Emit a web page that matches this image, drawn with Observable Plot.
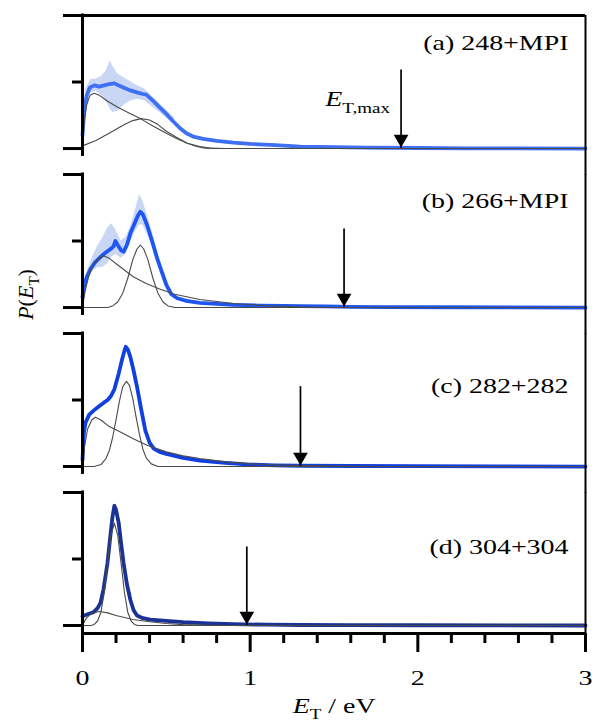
<!DOCTYPE html>
<html><head><meta charset="utf-8">
<script src="https://cdn.jsdelivr.net/npm/d3@7"></script>
<script src="https://cdn.jsdelivr.net/npm/@observablehq/plot@0.6"></script>
<style>
html,body{margin:0;padding:0;background:#fff;}
svg{display:block;}
</style></head><body>
<script>
// ---------- labels, ticks, markers ----------
const panels = ["a", "b", "c", "d"];
const panelLabels = ["(a) 248+MPI", "(b) 266+MPI", "(c) 282+282", "(d) 304+304"];
const panelLabelY = [0.74, 0.745, 0.55, 0.54];
const blueColors = ["#3f6ff2", "#1f56f0", "#1240e0", "#1a3196"];
const etMax = [1.90, 1.56, 1.30, 0.98];
const etMaxTop = [0.50, 0.50, 0.51, 0.50];
const xMajorTicks = [0, 1, 2, 3];
const xMinorTicks = [0.2, 0.4, 0.6, 0.8, 1.2, 1.4, 1.6, 1.8, 2.2, 2.4, 2.6, 2.8];
const yMajorTicks = [0, 1];
const yMinorTicks = [0.5];
const yFloor = -0.06;

// ---------- panel (a) 248+MPI ----------
const blueA = [[0,0.10],[0.01,0.28],[0.025,0.40],[0.045,0.46],[0.07,0.475],[0.10,0.465],[0.13,0.475],[0.16,0.485],[0.19,0.49],[0.215,0.475],[0.25,0.455],[0.29,0.435],[0.33,0.42],[0.36,0.41],[0.38,0.405],[0.42,0.36],[0.46,0.31],[0.50,0.26],[0.54,0.205],[0.58,0.155],[0.62,0.115],[0.66,0.09],[0.72,0.072],[0.80,0.058],[0.90,0.045],[1.00,0.035],[1.15,0.025],[1.30,0.015],[1.50,0.010],[1.70,0.007],[2.00,0.004],[2.30,0.002],[2.60,0.001],[3.00,0.0]];
const bandA = [[0.02,0.30,0.45],[0.05,0.42,0.52],[0.08,0.43,0.52],[0.11,0.40,0.54],[0.14,0.36,0.58],[0.165,0.30,0.66],[0.18,0.27,0.62],[0.21,0.28,0.56],[0.25,0.33,0.53],[0.29,0.36,0.50],[0.33,0.37,0.47],[0.37,0.36,0.45],[0.41,0.32,0.40],[0.45,0.28,0.35],[0.50,0.23,0.29],[0.55,0.18,0.23]];
const fit1A = [[0,0],[0.01,0.20],[0.025,0.33],[0.045,0.40],[0.07,0.415],[0.10,0.40],[0.15,0.355],[0.21,0.31],[0.28,0.265],[0.345,0.225],[0.42,0.17],[0.50,0.115],[0.56,0.075],[0.625,0.04],[0.70,0.015],[0.76,0.004],[0.85,0],[3,0]];
const fit2A = [[0,0.02],[0.08,0.06],[0.167,0.12],[0.25,0.18],[0.30,0.21],[0.35,0.225],[0.40,0.215],[0.45,0.18],[0.50,0.13],[0.56,0.085],[0.625,0.04],[0.68,0.015],[0.73,0.003],[0.80,0],[3,0]];

// ---------- panel (b) 266+MPI ----------
const blueB = [[0,0.08],[0.01,0.16],[0.025,0.23],[0.048,0.29],[0.075,0.34],[0.107,0.38],[0.135,0.41],[0.167,0.44],[0.185,0.46],[0.196,0.50],[0.21,0.47],[0.23,0.43],[0.245,0.42],[0.265,0.47],[0.286,0.56],[0.31,0.63],[0.33,0.69],[0.345,0.72],[0.36,0.70],[0.385,0.62],[0.415,0.50],[0.445,0.37],[0.475,0.26],[0.50,0.17],[0.53,0.10],[0.565,0.07],[0.62,0.05],[0.70,0.035],[0.80,0.027],[0.90,0.020],[1.05,0.015],[1.20,0.012],[1.30,0.010],[1.45,0.008],[1.60,0.005],[1.80,0.003],[2.20,0.002],[3.00,0.0]];
const bandB = [[0.03,0.20,0.28],[0.06,0.27,0.38],[0.09,0.30,0.46],[0.12,0.30,0.52],[0.15,0.33,0.60],[0.175,0.38,0.63],[0.20,0.40,0.58],[0.23,0.37,0.50],[0.26,0.40,0.53],[0.29,0.50,0.62],[0.32,0.58,0.75],[0.34,0.62,0.85],[0.36,0.62,0.80],[0.39,0.54,0.68],[0.42,0.44,0.55],[0.45,0.33,0.41],[0.48,0.23,0.29],[0.51,0.13,0.19]];
const fit1B = [[0,0],[0.015,0.12],[0.04,0.25],[0.07,0.33],[0.10,0.375],[0.125,0.39],[0.16,0.37],[0.22,0.31],[0.305,0.23],[0.38,0.18],[0.46,0.14],[0.55,0.10],[0.70,0.06],[0.90,0.03],[1.10,0.013],[1.30,0.004],[1.50,0],[3,0]];
const fit2B = [[0,0],[0.15,0],[0.18,0.012],[0.21,0.042],[0.24,0.108],[0.27,0.22],[0.30,0.36],[0.325,0.44],[0.345,0.47],[0.365,0.44],[0.39,0.36],[0.42,0.22],[0.45,0.108],[0.48,0.042],[0.51,0.012],[0.55,0],[3,0]];

// ---------- panel (c) 282+282 ----------
const blueC = [[0,0.05],[0.008,0.25],[0.018,0.33],[0.04,0.39],[0.066,0.42],[0.095,0.45],[0.127,0.48],[0.15,0.50],[0.17,0.53],[0.19,0.58],[0.216,0.70],[0.235,0.80],[0.25,0.87],[0.258,0.90],[0.27,0.88],[0.286,0.82],[0.305,0.72],[0.325,0.60],[0.35,0.43],[0.375,0.27],[0.40,0.18],[0.425,0.135],[0.46,0.11],[0.50,0.095],[0.60,0.065],[0.70,0.045],[0.85,0.028],[1.00,0.015],[1.15,0.009],[1.30,0.006],[1.60,0.004],[2.00,0.003],[2.50,0.001],[3.00,0.0]];
const fit1C = [[0,0],[0.012,0.15],[0.03,0.28],[0.055,0.35],[0.077,0.37],[0.11,0.35],[0.16,0.30],[0.226,0.26],[0.30,0.21],[0.385,0.16],[0.50,0.11],[0.60,0.08],[0.70,0.06],[0.85,0.035],[1.00,0.02],[1.15,0.013],[1.30,0.008],[1.50,0.004],[1.80,0],[3,0]];
const fit2C = [[0,0],[0.07,0],[0.11,0.015],[0.14,0.06],[0.16,0.12],[0.18,0.22],[0.20,0.35],[0.22,0.49],[0.24,0.60],[0.262,0.64],[0.28,0.61],[0.30,0.51],[0.32,0.37],[0.34,0.24],[0.36,0.13],[0.38,0.065],[0.41,0.02],[0.45,0],[3,0]];

// ---------- panel (d) 304+304 ----------
const blueD = [[0,0.07],[0.03,0.085],[0.066,0.10],[0.09,0.13],[0.107,0.17],[0.125,0.27],[0.149,0.47],[0.165,0.66],[0.178,0.81],[0.19,0.90],[0.20,0.87],[0.216,0.77],[0.23,0.62],[0.245,0.47],[0.265,0.31],[0.286,0.19],[0.305,0.115],[0.325,0.075],[0.36,0.055],[0.405,0.045],[0.50,0.035],[0.60,0.025],[0.75,0.016],[0.90,0.010],[1.10,0.006],[1.30,0.004],[1.60,0.003],[2.00,0.002],[3.00,0.0]];
const fit1D = [[0,0],[0.02,0.05],[0.05,0.09],[0.10,0.105],[0.15,0.095],[0.20,0.075],[0.30,0.045],[0.40,0.028],[0.50,0.015],[0.60,0.007],[0.70,0.003],[0.85,0],[3,0]];
const fit2D = [[0,0],[0.05,0],[0.07,0.008],[0.09,0.034],[0.11,0.10],[0.13,0.25],[0.15,0.47],[0.17,0.68],[0.19,0.77],[0.21,0.68],[0.23,0.47],[0.25,0.25],[0.27,0.10],[0.29,0.034],[0.31,0.008],[0.33,0],[3,0]];

// ---------- tables ----------
const blueByPanel = {a: blueA, b: blueB, c: blueC, d: blueD};
const bandByPanel = {a: bandA, b: bandB};
const fitsByPanel = {a: [fit1A, fit2A], b: [fit1B, fit2B], c: [fit1C, fit2C], d: [fit1D, fit2D]};

const blueRows = panels.flatMap(p => blueByPanel[p].map(([x, y]) => ({panel: p, x, y})));
const bandRows = Object.entries(bandByPanel).flatMap(([p, arr]) => arr.map(([x, lo, hi]) => ({panel: p, x, lo, hi})));
const fitRows = panels.flatMap(p => fitsByPanel[p].flatMap((arr, k) => arr.map(([x, y]) => ({panel: p, comp: k, x, y}))));
const labelRows = panels.map((p, i) => ({panel: p, text: panelLabels[i], y: panelLabelY[i]}));
const arrowRows = panels.map((p, i) => ({panel: p, e: etMax[i], top: etMaxTop[i]}));

const chart = Plot.plot({
  width: 592,
  height: 724,
  marginLeft: 82,
  marginRight: 7,
  marginTop: 15,
  marginBottom: 91,
  style: {fontFamily: "'Liberation Serif', 'Times New Roman', serif", background: "white", color: "black"},
  x: {domain: [0, 3]},
  y: {domain: [yFloor, 1]},
  fy: {domain: panels, axis: null, paddingInner: 0.113, paddingOuter: 0, round: false, label: null},
  color: {domain: panels, range: blueColors},
  marks: [
    // error bands
    Plot.areaY(bandRows, {x: "x", y1: "lo", y2: "hi", fy: "panel", z: "panel", fill: "#c9d7f5", curve: "linear"}),
    // experimental distributions
    Plot.line(blueRows, {x: "x", y: "y", fy: "panel", z: "panel", stroke: "panel", strokeWidth: 3.8, strokeLinejoin: "round"}),
    // fit components
    Plot.line(fitRows, {x: "x", y: "y", fy: "panel", z: d => d.panel + d.comp, stroke: "#4a4a4a", strokeWidth: 1.1}),
    // frame: left axis lines, top line, right line, bottom axis line
    Plot.ruleX([0], {y1: yFloor + 0.012, y2: 1, strokeWidth: 3, strokeLinecap: "square"}),
    Plot.ruleY(["a"], {fy: d => d, y: () => 1, x1: () => 0, x2: () => 3, strokeWidth: 3}),
    Plot.ruleX(panels, {fy: d => d, x: () => 3, y1: d => d === "d" ? yFloor : yFloor - 0.14, y2: () => 1, strokeWidth: 2}),
    Plot.ruleY(["d"], {fy: d => d, y: () => yFloor, x1: () => 0, x2: () => 3, strokeWidth: 3}),
    // y ticks
    Plot.axisY({ticks: yMajorTicks, tickSize: 19, tickFormat: () => "", strokeWidth: 3, label: null}),
    Plot.axisY({ticks: yMinorTicks, tickSize: 10, tickFormat: () => "", strokeWidth: 3, label: null}),
    // x ticks
    Plot.axisX({ticks: xMajorTicks, tickSize: 19, tickPadding: 17, fontSize: 22, strokeWidth: 3, tickFormat: d => String(d),
      label: "*E*_{T} / eV", labelAnchor: "center", labelOffset: 79, labelArrow: "none"}),
    Plot.axisX({ticks: xMinorTicks, tickSize: 10, tickFormat: () => "", strokeWidth: 3, label: null}),
    // ET,max arrows
    Plot.ruleX(arrowRows, {fy: "panel", x: "e", y1: () => 0, y2: "top", strokeWidth: 1.7, insetBottom: 12}),
    Plot.dot(arrowRows, {fy: "panel", x: "e", y: () => 0, dy: -9.5, symbol: "triangle", r: 5.46, rotate: 180, fill: "black", stroke: null}),
    Plot.text(arrowRows.filter(d => d.panel === "a"), {fy: "panel", x: "e", y: () => 0.32, text: () => "*E*_{T,max}", textAnchor: "end", lineAnchor: "bottom", dx: -11, fontSize: 22}),
    // panel labels
    Plot.text(labelRows, {fy: "panel", y: "y", text: "text", frameAnchor: "right", textAnchor: "end", lineAnchor: "bottom", dx: -17, fontSize: 22}),
    // y label
    Plot.text(["b"], {fy: d => d, y: () => 0.098, text: () => "*P*(*E*_{T})", frameAnchor: "left", dx: -57, rotate: -90, textAnchor: "middle", lineAnchor: "middle", fontSize: 22})
  ]
});

document.body.append(chart);

// rich text: *italic* and _{subscript}
function richify(el) {
  const s = el.textContent;
  if (!/[*_]/.test(s)) return;
  const fs = parseFloat(getComputedStyle(el).fontSize) || 22;
  while (el.firstChild) el.removeChild(el.firstChild);
  const re = /\*([^*]+)\*|_\{([^}]+)\}|([^*_]+)/g;
  let m, sub = false;
  while ((m = re.exec(s))) {
    const t = document.createElementNS("http://www.w3.org/2000/svg", "tspan");
    if (m[2] != null) {
      t.setAttribute("font-size", (0.68 * fs).toFixed(2));
      t.setAttribute("dy", (0.3 * fs).toFixed(2));
      t.setAttribute("font-style", "normal");
      t.textContent = m[2];
      sub = true;
    } else {
      if (m[1] != null) { t.setAttribute("font-style", "italic"); t.textContent = m[1]; }
      else t.textContent = m[3];
      if (sub) { t.setAttribute("dy", (-0.3 * fs).toFixed(2)); sub = false; }
    }
    el.appendChild(t);
  }
}
// the reference's lettering is drawn about 1.27x wider than it is tall
const STRETCH = 1.27;
const svgRoot = chart.tagName.toLowerCase() === "svg" ? chart : chart.querySelector("svg");
svgRoot.querySelectorAll("text").forEach(el => {
  richify(el);
  const tr = el.getAttribute("transform") || "";
  if (tr.includes("rotate")) return;
  const bb = el.getBBox();
  if (!(bb.width > 0)) return;
  const anchor = getComputedStyle(el).textAnchor;
  const ax = anchor === "end" ? bb.x + bb.width : anchor === "middle" ? bb.x + bb.width / 2 : bb.x;
  el.setAttribute("transform", `${tr} translate(${ax},0) scale(${STRETCH},1) translate(${-ax},0)`.trim());
});
</script>
</body></html>
